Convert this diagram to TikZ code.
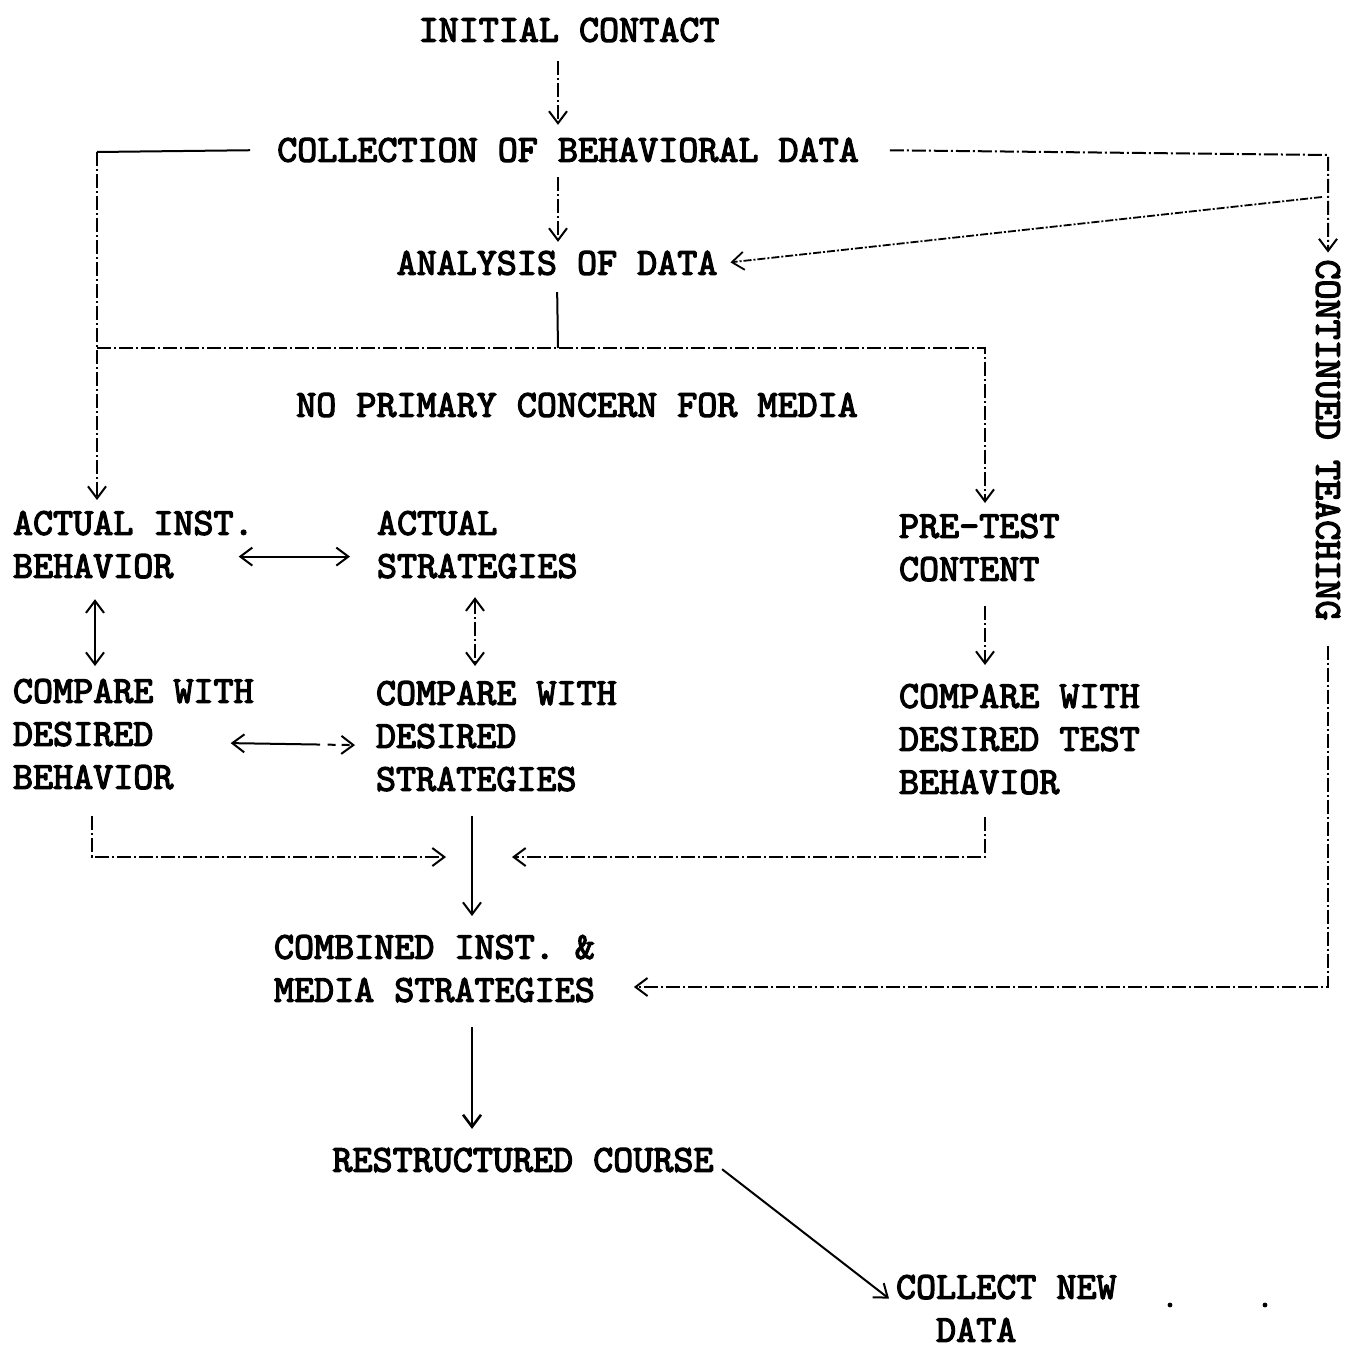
\documentclass[tikz,border=0pt]{standalone}
\usepackage{fontspec}
\newfontfamily\twfont{lmmono10-regular.otf}[FakeBold=3.2]
\usetikzlibrary{arrows.meta,calc}
\begin{document}
\begin{tikzpicture}[x=0.5pt,y=-0.5pt, line width=1pt,
  lbl/.style={font=\fontsize{19.1}{21.5}\selectfont\twfont, inner sep=3pt, align=left},
  ah/.style={-{Straight Barb[length=6pt,width=9pt]}},
  hh/.style={{Straight Barb[length=6pt,width=9pt]}-{Straight Barb[length=6pt,width=9pt]}},
  ha/.style={{Straight Barb[length=6pt,width=9pt]}-},
  dd/.style={dash pattern=on 7pt off 1.5pt on 1pt off 1.5pt},
  dl/.style={line width=0.9pt,dash pattern=on 4pt off 1pt on 1pt off 1pt},
]
\useasboundingbox (0,0) rectangle (1346,1348);
% nodes
\node[lbl] (ic) at (569,30) {INITIAL CONTACT};
\node[lbl] (col) at (568,150) {COLLECTION OF BEHAVIORAL DATA};
\node[lbl] (ana) at (557,263) {ANALYSIS OF DATA};
\node[lbl] (nopc) at (577,405) {NO PRIMARY CONCERN FOR MEDIA};
\node[lbl,anchor=north west] (aib) at (6,504) {ACTUAL INST.\\BEHAVIOR};
\node[lbl,anchor=north west] (as) at (370,504) {ACTUAL\\STRATEGIES};
\node[lbl,anchor=north west] (pt) at (892,507) {PRE-TEST\\CONTENT};
\node[lbl,anchor=north west] (cwb) at (6,672) {COMPARE WITH\\DESIRED\\BEHAVIOR};
\node[lbl,anchor=north west] (cws) at (369,674) {COMPARE WITH\\DESIRED\\STRATEGIES};
\node[lbl,anchor=north west] (cwt) at (892,677) {COMPARE WITH\\DESIRED TEST\\BEHAVIOR};
\node[lbl,anchor=north west] (cims) at (267,928) {COMBINED INST. \&\\MEDIA STRATEGIES};
\node[lbl] (rc) at (523,1160) {RESTRUCTURED COURSE};
\node[lbl,anchor=north west] (cnd) at (889,1268) {COLLECT NEW\\\phantom{CO}DATA};
\node[lbl,rotate=-90] (ct) at (1328,440) {CONTINUED TEACHING};
% helper coordinates
\coordinate (xc) at (558,0);
\coordinate (xA) at (95,0);
\coordinate (xB) at (475,0);
\coordinate (xC) at (985,0);
\coordinate (xM) at (472,0);
\coordinate (cL) at (97,152);
\coordinate (cR) at (1328,155);
\coordinate (cD) at (1322,197);
\coordinate (cB) at (558,348);
\coordinate (cP) at (985,348);
\coordinate (jn) at (472,857);
\coordinate (jL) at (92,857);
\coordinate (jR) at (985,857);
\coordinate (jRt) at ([xshift=20pt]jn);
\coordinate (jLt) at ([xshift=-13pt]jn);
\coordinate (cT) at (1328,987);
\coordinate (cE) at ($(cims.east)+(16pt,0)$);
% connectors
\draw[dd,ah,shorten <=6pt,shorten >=3pt] (ic.south -| xc) -- (col.north -| xc);
\draw[dd,ah,shorten <=4pt,shorten >=1pt] (col.south -| xc) -- (ana.north -| xc);
\draw[shorten <=10pt] (col.west) -- (cL);
\draw[dd,ah,shorten >=2pt] (cL) -- (aib.north -| cL);
\draw[dd,ah,shorten <=12pt] (col.east) -- (cR) -- (ct.west);
\draw[dl,ah,shorten >=3pt] (cD) -- (ana.east);
\draw[shorten <=5pt] (ana.south) -- (cB);
\draw[dd,ah,shorten >=2pt] (cL |- cB) -- (cP) -- (pt.north -| cP);
\draw[hh] ([shift={(-11pt,-6pt)}]aib.east) -- ([shift={(-10pt,-6pt)}]as.west);
\draw[hh,shorten <=7pt,shorten >=3pt] (aib.south -| xA) -- (cwb.north -| xA);
\draw[hh,dd,shorten <=6pt,shorten >=4pt] (as.south -| xB) -- (cws.north -| xB);
\coordinate (dL) at ([shift={(-15pt,-4.5pt)}]cwb.east);
\coordinate (dR) at ([shift={(-7pt,-4.5pt)}]cws.west);
\draw[ha] (dL) -- ($(dL)!0.72!(dR)$);
\draw[ah,dash pattern=on 4pt off 3pt] ($(dL)!0.78!(dR)$) -- (dR);
\draw[dd,ah,shorten <=9pt,shorten >=6pt] (pt.south -| xC) -- (cwt.north -| xC);
\draw[dd,ah,shorten <=10pt] (cwb.south -| jL) -- (jL) -- (jLt);
\draw[dd,ah,shorten <=8pt] (cwt.south -| jR) -- (jR) -- (jRt);
\draw[ah,shorten <=9pt,shorten >=6pt] (cws.south -| xM) -- (cims.north -| xM);
\draw[dd,ah,shorten <=9pt] (ct.east) -- (cT) -- (cE |- cT);
\draw[ah,line width=1.3pt,shorten <=9pt,shorten >=6pt] (cims.south -| xM) -- (rc.north -| xM);
\draw[ah,shorten <=1pt] ([yshift=-4pt]rc.east) -- ([yshift=5pt]cnd.west);
\fill (1170,1305) circle (1.2pt);
\fill (1265,1305) circle (1.2pt);
\end{tikzpicture}
\end{document}
